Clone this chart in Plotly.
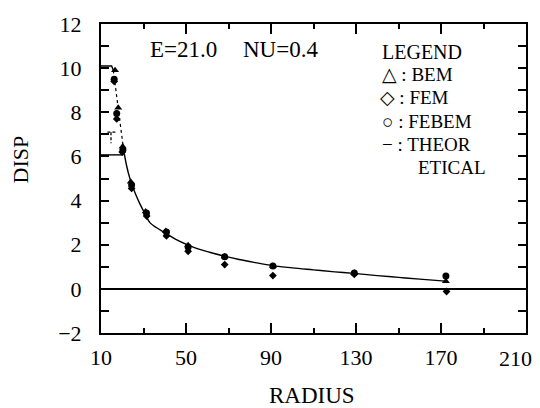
import plotly.graph_objects as go

# ---------------- data ----------------
bem_r = [16.6, 18.1, 20.2, 24.0, 31.0, 40.5, 51.0, 68.2, 90.9, 129.2, 172.3]
bem_y = [9.90, 8.20, 6.45, 4.85, 3.50, 2.62, 1.98, 1.47, 1.04, 0.73, 0.35]

fem_r = [16.2, 17.4, 20.0, 24.4, 31.5, 40.8, 51.0, 68.2, 90.9, 129.2, 172.6]
fem_y = [9.40, 7.70, 6.20, 4.55, 3.30, 2.40, 1.70, 1.10, 0.60, 0.66, -0.12]

febem_r = [16.2, 17.4, 20.3, 24.4, 31.4, 40.8, 51.0, 68.2, 90.9, 129.2, 172.3]
febem_y = [9.50, 7.95, 6.30, 4.70, 3.44, 2.58, 1.90, 1.45, 1.04, 0.72, 0.58]

# theoretical solution: inner plateau + dashed transition + decaying curve
theo_top_r = [10.0, 15.0, 15.8]
theo_top_y = [10.1, 10.1, 9.9]
theo_low_r = [10.0, 20.5]
theo_low_y = [6.07, 6.07]
theo_dash_r = [15.8, 20.5]
theo_dash_y = [9.9, 6.4]
theo_r = [20.5, 22.0, 23.6, 26.0, 28.3, 31.0, 33.0, 36.0, 40.0, 45.0, 51.0, 56.0,
          61.0, 68.0, 75.0, 82.0, 91.0, 100.0, 110.0, 120.0, 129.0, 140.0, 150.0,
          160.0, 172.0]
theo_y = [6.40, 5.60, 5.00, 4.35, 3.85, 3.35, 3.00, 2.78, 2.55, 2.25, 1.98, 1.80,
          1.66, 1.48, 1.33, 1.20, 1.05, 0.95, 0.86, 0.77, 0.70, 0.60, 0.52,
          0.44, 0.35]
mark_r = [13.0, 17.0, None, 14.7, 14.7]
mark_y = [7.1, 7.1, None, 7.1, 6.6]

x_ticks = [10, 50, 90, 130, 170, 210]
x_labels = ["10", "50", "90", "130", "170", ""]   # "210" placed by hand near the edge
y_ticks = [-2, 0, 2, 4, 6, 8, 10, 12]

FONT = "Liberation Serif, Times New Roman, DejaVu Serif, serif"

fig = go.Figure()

line_style = dict(color="black", width=1.4)
fig.add_trace(go.Scatter(x=theo_top_r, y=theo_top_y, mode="lines", line=line_style,
                         showlegend=False, hoverinfo="skip"))
fig.add_trace(go.Scatter(x=theo_low_r, y=theo_low_y, mode="lines", line=line_style,
                         showlegend=False, hoverinfo="skip"))
fig.add_trace(go.Scatter(x=theo_dash_r, y=theo_dash_y, mode="lines",
                         line=dict(color="black", width=1.2, dash="3px,3px"),
                         showlegend=False, hoverinfo="skip"))
fig.add_trace(go.Scatter(x=mark_r, y=mark_y, mode="lines",
                         line=dict(color="black", width=1.3, dash="3px,2px"),
                         showlegend=False, hoverinfo="skip"))
fig.add_trace(go.Scatter(x=theo_r, y=theo_y, mode="lines", line=line_style,
                         line_shape="spline", showlegend=False, name="THEORETICAL"))

fig.add_trace(go.Scatter(x=fem_r, y=fem_y, mode="markers", name="FEM",
                         marker=dict(symbol="diamond", size=6, color="black"),
                         showlegend=False))
fig.add_trace(go.Scatter(x=febem_r, y=febem_y, mode="markers", name="FEBEM",
                         marker=dict(symbol="circle", size=7, color="black"),
                         showlegend=False))
fig.add_trace(go.Scatter(x=bem_r, y=bem_y, mode="markers", name="BEM",
                         marker=dict(symbol="triangle-up", size=7, color="black"),
                         showlegend=False))

# plot area in pixels
L, R, T, B = 101, 527, 13, 333
W, H = 540, 408


def px(xp):
    return (xp - L) / (R - L)


def py(yp):
    return (B - yp) / (B - T)


def note(text, xp, yp, size=19, xanchor="left", angle=0):
    fig.add_annotation(text=text, x=px(xp), y=py(yp), xref="paper", yref="paper",
                       xanchor=xanchor, yanchor="middle", showarrow=False,
                       textangle=angle, borderpad=0,
                       font=dict(family=FONT, size=size, color="black"))


note("E=21.0", 149, 39, size=23)
note("NU=0.4", 242, 39, size=23)

note("LEGEND", 382, 42, size=20)
note("△ : BEM", 382, 65.5)
note("◇ : FEM", 380, 89.5)
note("○ : FEBEM", 382, 113.5)
note("− : THEOR", 382, 137.5)
note("ETICAL", 418, 161.5)

note("DISP", 20, 153, size=22, xanchor="center", angle=-90)
note("RADIUS", 312, 398, size=23, xanchor="center")
note("210", 516, 359, size=22, xanchor="center")

axis_common = dict(showline=True, linecolor="black", linewidth=2, mirror="ticks",
                   ticks="inside", tickcolor="black", tickwidth=1.5,
                   showgrid=False,
                   tickfont=dict(family=FONT, size=22, color="black"))

fig.update_xaxes(range=[10, 210], tickvals=x_ticks, ticktext=x_labels,
                 ticklen=10, ticklabelstandoff=4, zeroline=False,
                 minor=dict(dtick=20, tick0=10, ticks="inside", ticklen=5,
                            tickcolor="black", tickwidth=1.5, showgrid=False),
                 **axis_common)
fig.update_yaxes(range=[-2, 12], tickvals=y_ticks,
                 ticktext=[("−" + str(-v)) if v < 0 else str(v) for v in y_ticks],
                 ticklen=8, ticklabelstandoff=13,
                 zeroline=True, zerolinecolor="black", zerolinewidth=1.6,
                 minor=dict(dtick=1, tick0=0, ticks="inside", ticklen=8,
                            tickcolor="black", tickwidth=1.5, showgrid=False),
                 **axis_common)

fig.update_layout(width=W, height=H, margin=dict(l=L, r=W - R, t=T, b=H - B),
                  paper_bgcolor="white", plot_bgcolor="white", showlegend=False,
                  font=dict(family=FONT, color="black"))

fig.write_html("out.html")
